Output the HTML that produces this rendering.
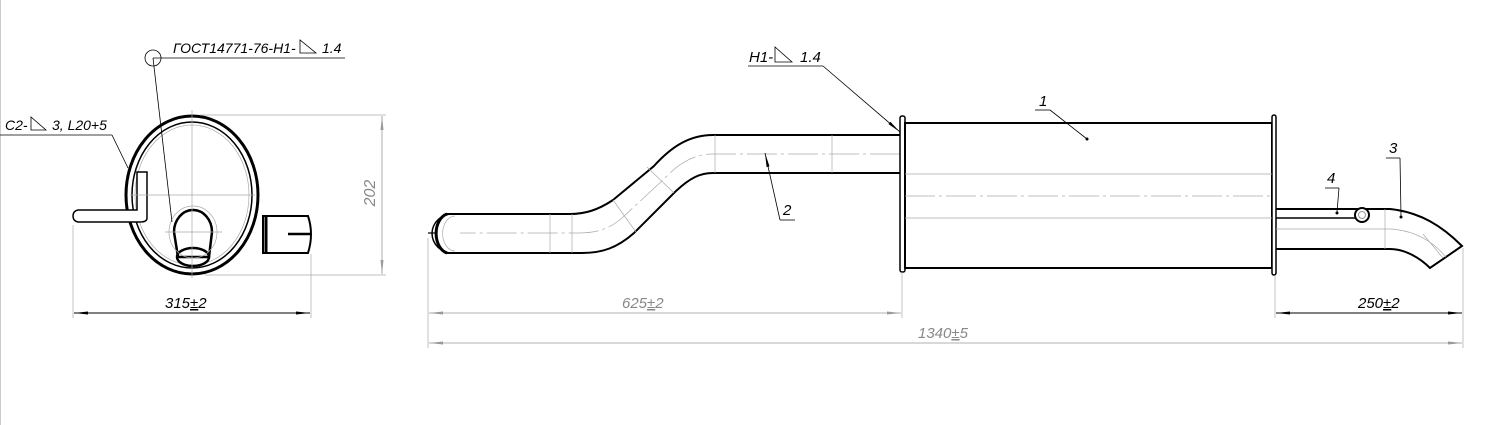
<!DOCTYPE html>
<html><head><meta charset="utf-8"><style>
html,body{margin:0;padding:0;background:#fff;}
svg{display:block;}
text{font-family:"Liberation Sans",sans-serif;font-style:italic;font-size:15px;}
</style></head><body>
<svg width="1487" height="425" viewBox="0 0 1487 425" xmlns="http://www.w3.org/2000/svg">
<defs>
<marker id="a" markerWidth="14" markerHeight="6" refX="14" refY="3" orient="auto-start-reverse" markerUnits="userSpaceOnUse">
<path d="M0,1.5 L14,3 L0,4.5 Z" fill="#000"/></marker>
<marker id="ag" markerWidth="14" markerHeight="6" refX="14" refY="3" orient="auto-start-reverse" markerUnits="userSpaceOnUse">
<path d="M0,1.5 L14,3 L0,4.5 Z" fill="#999"/></marker>
</defs>
<line x1="0.5" y1="0" x2="0.5" y2="425" stroke="#ccc" stroke-width="1"/>

<!-- LEFT VIEW -->
<g fill="none" stroke="#000">
<ellipse cx="192" cy="195" rx="66" ry="79" stroke-width="3"/>
<ellipse cx="192" cy="195" rx="60" ry="73" stroke-width="1.5"/>
<ellipse cx="192" cy="195" rx="57" ry="70" stroke="#aaa" stroke-width="0.7"/>
<path d="M174,232 A19,22 0 0 1 212,232 L209,257 L178,257 Z" fill="#fff" stroke-width="2.5"/>
<ellipse cx="193" cy="257" rx="16" ry="9" stroke-width="2.5"/>
<ellipse cx="193" cy="232" rx="24" ry="26" stroke="#aaa" stroke-width="0.7"/>
<path d="M263,216 L308,216 Q314,234 308,253 L263,253 Z" fill="#fff" stroke-width="2"/>
<line x1="266" y1="216" x2="266" y2="253" stroke-width="3"/>
<line x1="288" y1="234" x2="310" y2="234" stroke-width="2.5"/>
<path d="M78,210 L137,210 L137,172 L147,172 L147,218 Q147,222 140,222 L78,222 Q73,221 73,216 Q73,211 78,210 Z" fill="#fff" stroke-width="1.5"/>
</g>
<g stroke="#aaa" stroke-width="0.7">
<line x1="192" y1="110" x2="192" y2="278"/>
<line x1="130" y1="195" x2="255" y2="195"/>
<line x1="165" y1="232" x2="222" y2="232"/>
<line x1="200" y1="115" x2="386" y2="115"/>
<line x1="205" y1="275" x2="386" y2="275"/>
<line x1="73" y1="225" x2="73" y2="318"/>
<line x1="311" y1="254" x2="311" y2="318"/>
</g>
<line x1="382" y1="116" x2="382" y2="274" stroke="#999" stroke-width="0.8" marker-start="url(#ag)" marker-end="url(#ag)"/>
<text x="375" y="193" fill="#888" transform="rotate(-90 375 193)" text-anchor="middle" style="font-size:16px">202</text>
<line x1="74" y1="313" x2="310" y2="313" stroke="#000" stroke-width="0.9" marker-start="url(#a)" marker-end="url(#a)"/>
<text x="165" y="308">315<tspan text-decoration="underline">±</tspan>2</text>

<circle cx="153" cy="58" r="8" fill="none" stroke="#000" stroke-width="0.8"/>
<line x1="153" y1="58" x2="345" y2="58" stroke="#000" stroke-width="0.8"/>
<line x1="153" y1="58" x2="172" y2="222" stroke="#000" stroke-width="0.8"/>
<text x="173" y="53" style="font-size:14px">ГОСТ14771-76-Н1-</text>
<polygon points="300,40 300,53 316,53" fill="none" stroke="#000" stroke-width="0.8"/>
<text x="322" y="53" style="font-size:14px">1.4</text>
<line x1="0" y1="135" x2="112" y2="135" stroke="#000" stroke-width="0.8"/>
<line x1="112" y1="135" x2="128" y2="168" stroke="#000" stroke-width="0.8"/>
<text x="5" y="130" style="font-size:14px">С2-</text>
<polygon points="31,117 31,130 46,130" fill="none" stroke="#000" stroke-width="0.8"/>
<text x="52" y="130" style="font-size:14px">3, L20+5</text>

<g fill="none" stroke="#000" stroke-width="2">
<path d="M900,135 L713,135 C690,135 672,146 654,166 L613,200 C598,210 585,214 570,214 L445,214"/>
<path d="M900,173 L713,173 C700,173 690,178 676,191 L634,233 C617,248 602,253 582,253 L445,253"/>
<path d="M447,214 A14,20 0 0 0 447,253" stroke-width="3"/>
<path d="M452,214 A20,20 0 0 0 432,233 A20,20 0 0 0 452,253" stroke-width="1.5"/>
<line x1="428" y1="233" x2="437" y2="233" stroke-width="1.2"/>
</g>
<path d="M455,216 A12,17 0 0 0 455,251" fill="none" stroke="#aaa" stroke-width="0.7"/>
<g stroke="#aaa" stroke-width="0.7" fill="none">
<path d="M900,154 L713,154 C695,154 680,162 665,178 L622,218 C608,230 595,233 578,233 L460,233" stroke-dasharray="30,4,3,4"/>
<line x1="832" y1="135" x2="832" y2="173"/>
<line x1="715" y1="135" x2="715" y2="173"/>
<line x1="550" y1="214" x2="550" y2="253"/>
<line x1="572" y1="214" x2="572" y2="253"/>
<line x1="613" y1="200" x2="636" y2="232"/>
<line x1="647" y1="167" x2="674" y2="193"/>
</g>
<rect x="900" y="116" width="5" height="156" rx="2" fill="#fff" stroke="#000" stroke-width="1.5"/>
<rect x="905" y="123" width="367" height="145" fill="none" stroke="#000" stroke-width="2"/>
<rect x="1272" y="115" width="4" height="160" rx="2" fill="#fff" stroke="#000" stroke-width="1.5"/>
<g stroke="#aaa" stroke-width="0.7">
<line x1="905" y1="174" x2="1272" y2="174"/>
<line x1="905" y1="218" x2="1272" y2="218"/>
<line x1="905" y1="196" x2="1272" y2="196" stroke-dasharray="30,4,3,4"/>
</g>
<g fill="none" stroke="#000" stroke-width="2">
<path d="M1276,209 L1390,209 C1420,212 1442,226 1462,246 L1430,268 C1420,258 1405,249 1390,249 L1276,249"/>
<path d="M1276,218 L1356,218" stroke-width="1.5"/>
<circle cx="1362" cy="215" r="7" fill="#fff" stroke-width="2"/>
<circle cx="1362" cy="215" r="3.5" stroke="#999" stroke-width="1"/>
</g>
<g stroke="#aaa" stroke-width="0.7" fill="none">
<line x1="1385" y1="209" x2="1385" y2="249"/>
<path d="M1276,229 L1390,229 C1410,230 1430,238 1446,257"/>
<line x1="1423" y1="234" x2="1443" y2="258"/>
</g>
<g stroke="#aaa" stroke-width="0.7">
<line x1="428" y1="238" x2="428" y2="348"/>
<line x1="902" y1="272" x2="902" y2="318"/>
<line x1="1275" y1="275" x2="1275" y2="318"/>
<line x1="1463" y1="248" x2="1463" y2="348"/>
</g>
<line x1="429" y1="313" x2="901" y2="313" stroke="#999" stroke-width="0.8" marker-start="url(#ag)" marker-end="url(#ag)"/>
<text x="622" y="308" fill="#888">625<tspan text-decoration="underline">±</tspan>2</text>
<line x1="429" y1="343" x2="1462" y2="343" stroke="#999" stroke-width="0.8" marker-start="url(#ag)" marker-end="url(#ag)"/>
<text x="918" y="338" fill="#888">1340<tspan text-decoration="underline">±</tspan>5</text>
<line x1="1276" y1="313" x2="1462" y2="313" stroke="#000" stroke-width="0.9" marker-start="url(#a)" marker-end="url(#a)"/>
<text x="1358" y="308">250<tspan text-decoration="underline">±</tspan>2</text>
<g stroke="#000" stroke-width="0.8" fill="none">
<line x1="748" y1="66" x2="823" y2="66"/>
<line x1="823" y1="66" x2="900" y2="132" marker-end="url(#a)"/>
<line x1="780" y1="220" x2="795" y2="220"/>
<line x1="780" y1="220" x2="765" y2="153" marker-end="url(#a)"/>
<line x1="1035" y1="110" x2="1050" y2="110"/>
<line x1="1050" y1="110" x2="1087" y2="139"/>
<line x1="1386" y1="158" x2="1400" y2="158"/>
<line x1="1400" y1="158" x2="1401" y2="216"/>
<line x1="1325" y1="188" x2="1339" y2="188"/>
<line x1="1339" y1="188" x2="1337" y2="212"/>
</g>
<circle cx="1087" cy="139" r="1.5"/><circle cx="1401" cy="217" r="1.5"/><circle cx="1337" cy="213" r="1.5"/>
<text x="749" y="62">Н1-</text>
<polygon points="775,47 775,62 792,62" fill="none" stroke="#000" stroke-width="0.8"/>
<text x="800" y="62">1.4</text>
<text x="783" y="215">2</text>
<text x="1039" y="106">1</text>
<text x="1389" y="153">3</text>
<text x="1327" y="183">4</text>
</svg>
</body></html>
